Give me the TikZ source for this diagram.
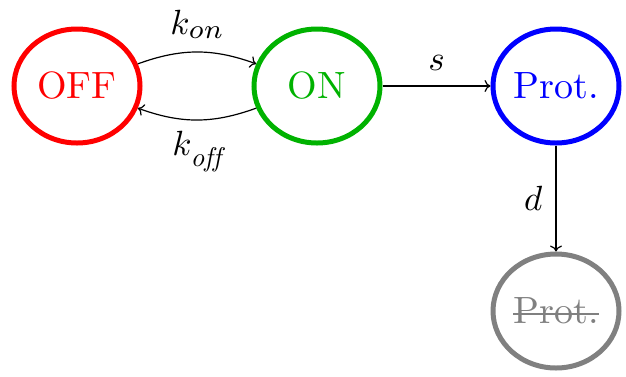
\documentclass[tikz,border=0pt]{standalone}
\usepackage{fontspec}
\setmainfont{lmroman10-regular}[Extension=.otf,ItalicFont=lmroman10-italic]
\DeclareFontShape{OML}{cmm}{m}{it}{<-30>cmmi7 <30->cmmi10}{\skewchar\font'177}
\DeclareMathSizes{35}{35}{27}{20}
\usetikzlibrary{shapes.geometric,arrows.meta}
\definecolor{stgreen}{RGB}{0,178,0}
\newcommand\mystrike[1]{\setbox0=\hbox{#1}\rlap{\rule[9pt]{\wd0}{1.6pt}}\box0}
\begin{document}
\begin{tikzpicture}[x=1pt,y=-1pt,
  state/.style={ellipse,draw,line width=5pt,minimum width=126pt,minimum height=114pt,inner sep=0pt,font=\fontsize{38}{44}\selectfont},
  trans/.style={-{To[length=6pt,width=12pt]},line width=1.2pt},
  lbl/.style={font=\fontsize{35}{40}\selectfont,inner sep=0pt}]
\useasboundingbox (0,0) rectangle (626,376);
\node[state,draw=red,text=red] (off) at (77,86) {OFF};
\node[state,draw=stgreen,text=stgreen] (on) at (317,86) {ON};
\node[state,draw=blue,text=blue] (prot) at (556,86) {Prot.};
\node[state,draw=gray,text=gray] (deg) at (556,311) {\mystrike{Prot.}};
\draw[trans] (off) to[bend left=20] node[lbl,above=13pt] (kon) {$k_{on}$} (on);
\draw[trans] (on) to[bend left=20] node[lbl,below=11pt] (koff) {$k_{\mathit{off}}$} (off);
\draw[trans] (on) -- node[lbl,above=15pt] (s) {$s$} (prot);
\draw[trans] (prot) -- node[lbl,left=13pt] (d) {$d$} (deg);
\end{tikzpicture}
\end{document}
